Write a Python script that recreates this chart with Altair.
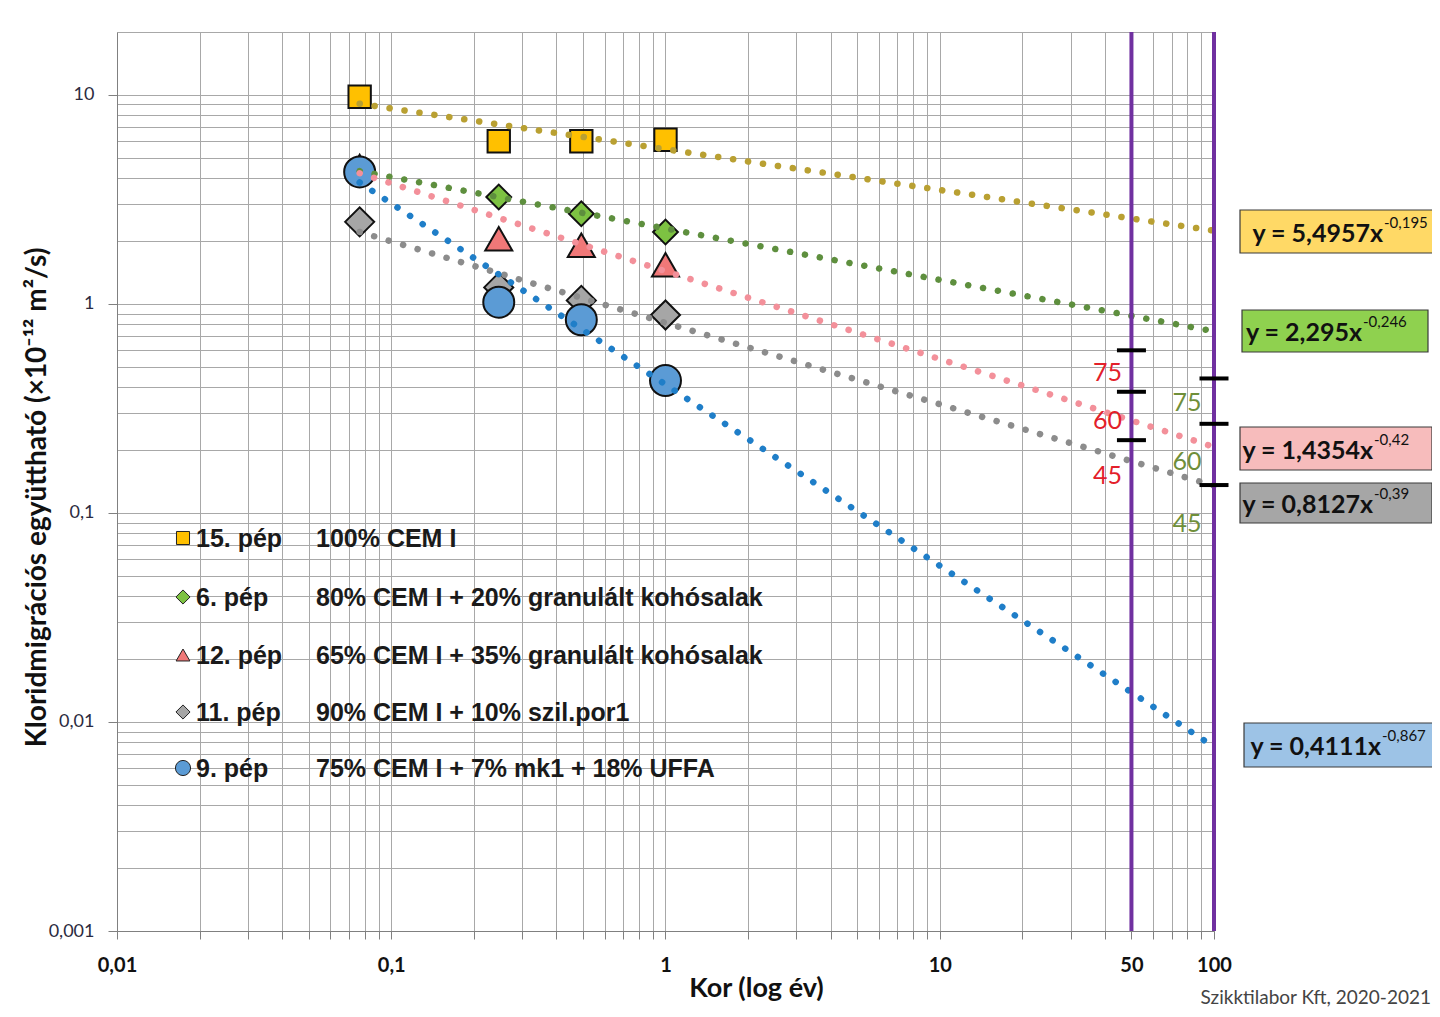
import altair as alt
import pandas as pd

# ---------------- data ----------------
series = ["15. pép", "6. pép", "12. pép", "11. pép", "9. pép"]
descriptions = [
    "100% CEM I",
    "80% CEM I + 20% granulált kohósalak",
    "65% CEM I + 35% granulált kohósalak",
    "90% CEM I + 10% szil.por1",
    "75% CEM I + 7% mk1 + 18% UFFA",
]
ages = [0.0767, 0.2466, 0.4932, 1.0]  # years (28, 90, 180, 365 days)
d_15 = [9.8, 6.0, 6.0, 6.1]
d_6 = [4.4, 3.25, 2.70, 2.21]
d_12 = [4.55, 2.05, 1.91, 1.54]
d_11 = [2.47, 1.20, 1.04, 0.885]
d_9 = [4.28, 1.02, 0.84, 0.43]
measured = [d_15, d_6, d_12, d_11, d_9]

# trend lines (power fits) read at their two ends
trend_ages = [0.0767, 100]
trend_start = [9.07, 4.32, 4.22, 2.21, 3.81]
trend_end = [2.24, 0.74, 0.207, 0.135, 0.0076]
eq_coef = ["5,4957", "2,295", "1,4354", "0,8127", "0,4111"]
eq_exp = ["-0,195", "-0,246", "-0,42", "-0,39", "-0,867"]

# design service-life limits
design_ages = [50, 100]
limit_age = [50, 50, 50, 100, 100, 100]
limit_val = [0.60, 0.38, 0.223, 0.44, 0.267, 0.136]
limit_lbl = ["75", "60", "45", "75", "60", "45"]

x_ticks = [round(m * 10 ** k, 6) for k in range(-2, 2) for m in range(1, 10)] + [100]
y_ticks = [round(m * 10 ** k, 6) for k in range(-3, 1) for m in range(1, 10)] + [10, 20]

# ---------------- styles / layout ----------------
line_colors = ["#b9a032", "#5e8f3e", "#f3909a", "#8c8c8c", "#1f7ec8"]
fill_colors = ["#ffc000", "#7dc242", "#f07878", "#a6a6a6", "#5b9bd5"]
box_colors = ["#ffd966", "#8fd14f", "#f7bcbc", "#a6a6a6", "#9dc3e6"]
shapes = ["square", "diamond", "triangle-up", "diamond", "circle"]
sizes = [500, 960, 520, 960, 840]
leg_sizes = [170, 200, 190, 200, 230]
limit_colors = {50: "#e3202a", 100: "#6f8f3a"}
limit_dx = {50: -24, 100: -27}
limit_dy = [23, 29, 36, 25, 38, 39]

W, H = 1097, 899
# equation boxes (px relative to plot): x1, x2, y1, y2, main-text right edge
boxes = [
    (1123, 1318, 178, 221, 1266),
    (1125, 1311, 278, 320, 1245),
    (1123, 1315, 395, 438, 1256),
    (1123, 1315, 451, 491, 1256),
    (1127, 1318, 691, 735, 1264),
]
leg_y = [506, 565, 623, 680, 736]

pts_df = pd.DataFrame(
    [{"series": s, "age": a, "D": v, "k": i}
     for i, (s, vs) in enumerate(zip(series, measured)) for a, v in zip(ages, vs)]
)
trend_df = pd.DataFrame(
    [{"series": s, "age": a, "D": v}
     for s, y0, y1 in zip(series, trend_start, trend_end)
     for a, v in zip(trend_ages, [y0, y1])]
)
lim_df = pd.DataFrame({"age": limit_age, "D": limit_val, "lbl": limit_lbl})

x_scale = alt.Scale(type="log", domain=[0.01, 100], nice=False)
y_scale = alt.Scale(type="log", domain=[0.001, 20], nice=False)

x_axis = alt.Axis(
    values=x_ticks, format="~g",
    labelExpr="indexof([0.01,0.1,1,10,50,100], datum.value) >= 0 ? replace(datum.label, '.', ',') : ''",
    labelFont="Lato", labelFontSize=20, labelFontWeight="bold", labelColor="#111111",
    labelPadding=16, labelOverlap=False, labelFlush=False, labelBound=False,
    tickSize=8, tickColor="#808080", domainColor="#808080",
    grid=True, gridColor="#a8a8a8", gridWidth=1,
    title="Kor (log év)", titleFont="Lato", titleFontSize=27, titleFontWeight="bold",
    titleColor="#111111", titleX=639, titleY=57, titleAlign="center", titleBaseline="middle",
)
dec_test = "indexof([0.001,0.01,0.1,1,10], datum.value) >= 0"
y_axis = alt.Axis(
    values=y_ticks, format="~g",
    labelExpr=f"{dec_test} ? replace(datum.label, '.', ',') : ''",
    labelFont="Lato", labelFontSize=18, labelColor="#2b2b40",
    labelPadding=14, labelOverlap=False, labelFlush=False, labelBound=False,
    tickSize=9, tickColor={"condition": {"test": dec_test, "value": "#808080"}, "value": "transparent"},
    domainColor="#808080",
    grid=True, gridColor="#a8a8a8", gridWidth=1,
    title="Kloridmigrációs együttható (×10⁻¹² m²/s)", titleFont="Lato", titleFontSize=28,
    titleFontWeight="bold", titleColor="#111111", titleX=-80, titleY=465,
    titleAngle=270, titleAlign="center", titleBaseline="middle",
)

points = alt.Chart(pts_df).mark_point(filled=True, opacity=1, stroke="#111111", strokeWidth=2).encode(
    x=alt.X("age:Q", scale=x_scale, axis=x_axis),
    y=alt.Y("D:Q", scale=y_scale, axis=y_axis),
    shape=alt.Shape("series:N", scale=alt.Scale(domain=series, range=shapes), legend=None),
    fill=alt.Fill("series:N", scale=alt.Scale(domain=series, range=fill_colors), legend=None),
    size=alt.Size("series:O", scale=alt.Scale(domain=series, range=sizes), legend=None),
    order=alt.Order("k:Q"),
)

lines = alt.Chart(trend_df).mark_line(strokeDash=[0.1, 15], strokeCap="round", strokeWidth=6.5).encode(
    x="age:Q", y="D:Q",
    color=alt.Color("series:N", scale=alt.Scale(domain=series, range=line_colors), legend=None),
    detail="series:N",
)

rules = alt.Chart(pd.DataFrame({"age": design_ages})).mark_rule(color="#7030a0", strokeWidth=4).encode(
    x="age:Q"
)

lim_ticks = alt.Chart(lim_df).mark_tick(orient="horizontal", size=29, thickness=4, color="#000000", opacity=1).encode(
    x="age:Q", y="D:Q"
)

layers = [points, lines, rules, lim_ticks]

for j in range(len(limit_lbl)):
    a = limit_age[j]
    layers.append(
        alt.Chart(lim_df.iloc[[j]]).mark_text(
            dx=limit_dx[a], dy=limit_dy[j], font="Lato", fontSize=25, color=limit_colors[a]
        ).encode(x="age:Q", y="D:Q", text="lbl:N")
    )

# equation boxes
for i in range(5):
    x1, x2, y1, y2, xe = boxes[i]
    yc = (y1 + y2) / 2
    one = pd.DataFrame({"main": [f"y = {eq_coef[i]}x"], "exp": [eq_exp[i]]})
    layers.append(alt.Chart(one).mark_rect(fill=box_colors[i], stroke="#3a3a3a", strokeWidth=1.2).encode(
        x=alt.value(x1), x2=alt.value(x2), y=alt.value(y1), y2=alt.value(y2)))
    layers.append(alt.Chart(one).mark_text(align="right", baseline="middle", font="Lato", fontSize=25,
                                           fontWeight="bold", color="#111111").encode(
        x=alt.value(xe), y=alt.value(yc + 2), text="main:N"))
    layers.append(alt.Chart(one).mark_text(align="left", baseline="middle", font="Lato", fontSize=15,
                                           color="#111111").encode(
        x=alt.value(xe + 1), y=alt.value(yc - 9), text="exp:N"))

# legend inside plot
for i in range(5):
    one = pd.DataFrame({"s": [series[i]], "d": [descriptions[i]]})
    layers.append(alt.Chart(one).mark_point(shape=shapes[i], filled=True, fill=fill_colors[i], opacity=1,
                                            stroke="#222222", strokeWidth=1, size=leg_sizes[i]).encode(
        x=alt.value(66), y=alt.value(leg_y[i])))
    layers.append(alt.Chart(one).mark_text(align="left", baseline="middle", font="Liberation Sans", fontSize=25,
                                           fontWeight="bold", color="#1a1a1a").encode(
        x=alt.value(79), y=alt.value(leg_y[i] + 1), text="s:N"))
    layers.append(alt.Chart(one).mark_text(align="left", baseline="middle", font="Liberation Sans", fontSize=25,
                                           fontWeight="bold", color="#1a1a1a").encode(
        x=alt.value(199), y=alt.value(leg_y[i] + 1), text="d:N"))

credit = alt.Chart(pd.DataFrame({"t": ["Szikktilabor Kft, 2020-2021"]})).mark_text(
    align="right", baseline="middle", font="Lato", fontSize=19, color="#444444"
).encode(x=alt.value(1314), y=alt.value(966), text="t:N")
layers.append(credit)

chart = alt.layer(*layers).properties(
    width=W, height=H,
    autosize=alt.AutoSizeParams(type="none"),
    padding={"left": 109, "top": 24, "right": 218, "bottom": 76},
    background="#ffffff",
).configure_view(stroke="transparent")

chart.save("out.html", embed_options={"renderer": "svg", "actions": False})
